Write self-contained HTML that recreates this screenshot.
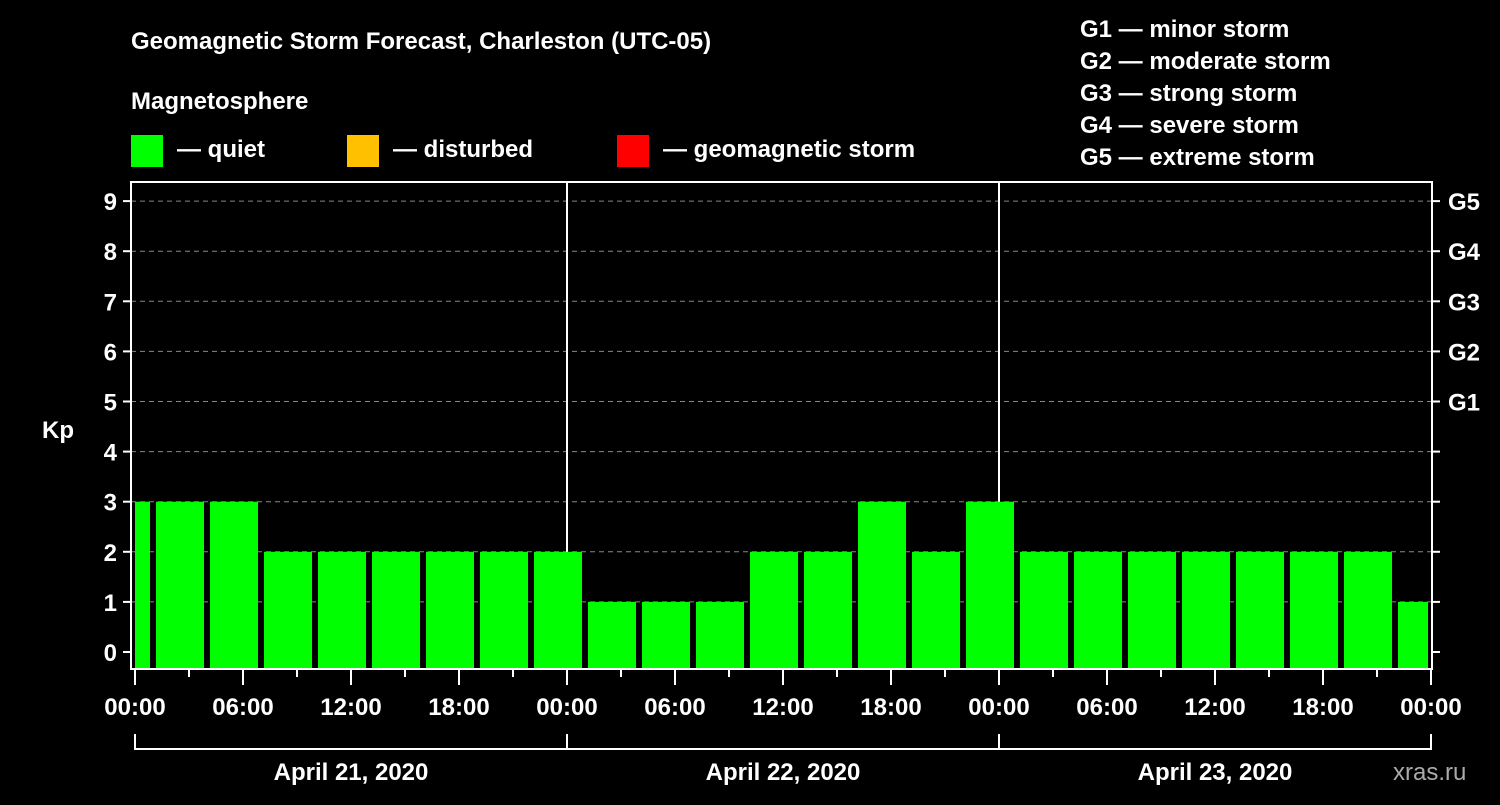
<!DOCTYPE html>
<html><head><meta charset="utf-8"><style>
body{margin:0;background:#000;width:1500px;height:800px;overflow:hidden}
svg text{font-family:"Liberation Sans",Arial,sans-serif;font-weight:bold;fill:#fff}
</style></head><body>
<svg id="chart" width="1500" height="800" xmlns="http://www.w3.org/2000/svg">
<text x="131" y="49" font-size="24">Geomagnetic Storm Forecast, Charleston (UTC-05)</text>
<text x="131" y="109" font-size="24">Magnetosphere</text>
<g><rect x="131" y="135" width="32" height="32" fill="#00ff00"/><text x="177" y="157" font-size="24">— quiet</text></g>
<g><rect x="347" y="135" width="32" height="32" fill="#ffc000"/><text x="393" y="157" font-size="24">— disturbed</text></g>
<g><rect x="617" y="135" width="32" height="32" fill="#ff0000"/><text x="663" y="157" font-size="24">— geomagnetic storm</text></g>
<g font-size="24">
<text x="1080" y="37">G1 — minor storm</text><text x="1080" y="69">G2 — moderate storm</text><text x="1080" y="101">G3 — strong storm</text><text x="1080" y="133">G4 — severe storm</text><text x="1080" y="165">G5 — extreme storm</text></g>
<text x="42" y="438" font-size="24">Kp</text>
<text x="1393" y="780" font-size="24" fill="#aaa" style="fill:#aaa;font-weight:normal">xras.ru</text>
<g id="grid"></g><g id="bars"></g><g id="axes"></g>
</svg>
<script>
const kpValues=[3,3,3,2,2,2,2,2,2,1,1,1,2,2,3,2,3,2,2,2,2,2,2,2,1];
const barCenterHours=[-0.5,2.5,5.5,8.5,11.5,14.5,17.5,20.5,23.5,26.5,29.5,32.5,35.5,38.5,41.5,44.5,47.5,50.5,53.5,56.5,59.5,62.5,65.5,68.5,71.5];
const kpTicks=[0,1,2,3,4,5,6,7,8,9];
const gLabels=["G1","G2","G3","G4","G5"];
const gLevels=[5,6,7,8,9];
const dayLabels=["April 21, 2020","April 22, 2020","April 23, 2020"];
const timeLabels=["00:00","06:00","12:00","18:00"];
const NS="http://www.w3.org/2000/svg";
const L=131,R=1432,T=182,B=669,X0=135,PX=18;
const x=h=>X0+h*PX, y=k=>652-k*50.1;
function mk(parent,tag,attrs){const e=document.createElementNS(NS,tag);for(const k in attrs)e.setAttribute(k,attrs[k]);document.getElementById(parent).appendChild(e);return e;}
kpTicks.forEach(k=>{
 if(k>=1){const g=mk('grid','line',{x1:L,x2:R,y1:y(k),y2:y(k),stroke:'#888','stroke-dasharray':'5,4','stroke-width':1});
 
 }
 const t=mk('axes','line',{x1:L-8,x2:L,y1:y(k),y2:y(k),stroke:'#fff','stroke-width':2});
 
 
 const t2=mk('axes','line',{x1:R,x2:R+8,y1:y(k),y2:y(k),stroke:'#fff','stroke-width':2});
 
 
 const lb=mk('axes','text',{x:L-14,y:y(k)+9,'font-size':24,'text-anchor':'end'});lb.textContent=k;
 
 
});
gLevels.forEach((k,i)=>{const lb=mk('axes','text',{x:1448,y:y(k)+9,'font-size':24});lb.textContent=gLabels[i];
 
 });
[24,48].forEach(h=>{const d=mk('grid','line',{x1:x(h),x2:x(h),y1:T,y2:B,stroke:'#fff','stroke-width':2});
 
 });
kpValues.forEach((v,i)=>{
 let a=x(barCenterHours[i])-24,b=x(barCenterHours[i])+24;a=Math.max(a,x(0));b=Math.min(b,1428);
 const col=v>=5?'#ff0000':(v>=4?'#ffc000':'#00ff00');
 const r=mk('bars','rect',{x:a,y:y(v),width:b-a,height:B-1-y(v),fill:col});
 
 
});
const fr=mk('axes','rect',{x:L,y:T,width:R-L,height:B-T,fill:'none',stroke:'#fff','stroke-width':2});


for(let h=0;h<=72;h+=3){
 const long=h%6===0;
 const t=mk('axes','line',{x1:x(h),x2:x(h),y1:B,y2:B+(long?16:8),stroke:'#fff','stroke-width':2});
 
 
 if(long){const lb=mk('axes','text',{x:x(h),y:715,'font-size':24,'text-anchor':'middle'});lb.textContent=timeLabels[(h%24)/6];
 
 }
}
const br=mk('axes','path',{d:`M${x(0)},734V749H${x(72)}V734M${x(24)},749V734M${x(48)},749V734`,stroke:'#fff','stroke-width':2,fill:'none'});


dayLabels.forEach((d,i)=>{const lb=mk('axes','text',{x:x(i*24+12),y:780,'font-size':24,'text-anchor':'middle'});lb.textContent=d;
 
 });
</script>
</body></html>
